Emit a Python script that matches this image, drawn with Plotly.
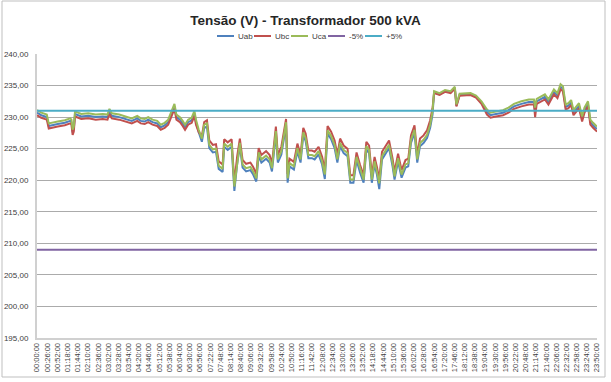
import plotly.graph_objects as go

# time of each sample, minutes after midnight
minutes = [0, 11, 25, 30, 53, 71, 85, 88, 91, 94, 97, 113, 131, 150, 168, 180, 185, 191, 210, 229,
           242, 256, 265, 275, 284, 295, 307, 316, 326, 335, 344, 351, 356, 365, 372, 378, 386, 395, 402, 406,
           413, 421, 427, 434, 440, 449, 457, 464, 474, 478, 487, 497, 504, 511, 518, 525, 534, 545, 552, 560,
           566, 573, 585, 594, 600, 610, 615, 624, 636, 640, 645, 656, 665, 673, 680, 686, 693, 702, 709, 719,
           728, 735, 742, 751, 760, 767, 774, 783, 793, 800, 808, 816, 825, 834, 841, 848, 855, 862, 868, 874,
           881, 890, 899, 908, 913, 922, 931, 941, 948, 955, 964, 971, 978, 987, 996, 1004, 1010, 1014, 1028, 1042,
           1056, 1067, 1071, 1079, 1093, 1107, 1121, 1135, 1149, 1158, 1172, 1190, 1204, 1218, 1237, 1256, 1269, 1272, 1276, 1297,
           1306, 1320, 1329, 1337, 1343, 1350, 1357, 1364, 1370, 1380, 1384, 1392, 1398, 1407, 1413, 1420, 1430]

uab = [230.7, 230.3, 230.0, 228.6, 228.9, 229.1, 229.4, 229.2, 227.6, 228.1, 230.5, 230.1, 230.2, 230.0, 230.1, 230.0, 230.9, 230.2, 230.0, 229.6,
       229.4, 229.8, 229.4, 229.3, 229.6, 229.2, 229.0, 228.4, 228.7, 229.2, 230.5, 231.7, 230.0, 229.6, 229.0, 228.4, 229.2, 229.5, 230.6, 229.2,
       227.6, 226.1, 228.3, 228.5, 225.1, 224.4, 224.5, 221.8, 221.3, 225.3, 224.8, 225.3, 218.3, 222.5, 225.4, 222.0, 221.4, 221.6, 220.9, 219.8,
       223.9, 222.8, 223.4, 222.8, 221.4, 227.3, 222.8, 224.1, 228.7, 219.6, 222.2, 221.7, 224.6, 222.8, 227.1, 226.2, 223.5, 223.5, 223.3, 224.1,
       222.5, 220.2, 227.4, 226.5, 225.1, 222.8, 225.4, 224.3, 223.8, 219.6, 219.6, 223.2, 221.2, 219.6, 224.9, 224.3, 219.6, 222.5, 220.9, 218.6,
       223.3, 224.3, 225.1, 222.2, 220.1, 223.0, 220.4, 222.0, 222.2, 225.9, 227.5, 222.8, 225.4, 225.9, 226.7, 228.3, 230.4, 233.9, 233.6, 234.1,
       233.9, 234.6, 231.8, 233.5, 233.5, 233.6, 233.2, 232.3, 230.8, 230.3, 230.5, 230.7, 231.1, 231.7, 232.1, 232.4, 232.4, 231.0, 232.5, 233.2,
       232.4, 234.0, 233.4, 234.8, 234.5, 231.6, 231.8, 232.3, 230.7, 231.6, 231.8, 229.7, 231.1, 232.1, 229.2, 228.7, 228.1]

ubc = [230.3, 229.9, 229.6, 228.2, 228.5, 228.7, 229.0, 228.8, 227.2, 227.7, 230.1, 229.7, 229.8, 229.6, 229.7, 229.6, 230.5, 229.8, 229.6, 229.2,
       229.0, 229.4, 229.0, 228.9, 229.2, 228.8, 228.6, 228.0, 228.3, 228.8, 230.1, 231.3, 229.6, 229.2, 228.6, 228.0, 228.8, 229.1, 230.2, 228.8,
       227.6, 227.0, 229.2, 229.5, 226.3, 225.6, 225.7, 223.0, 222.5, 226.5, 226.0, 226.5, 219.6, 223.7, 226.6, 223.2, 222.6, 222.8, 222.1, 221.0,
       225.1, 224.0, 224.6, 224.0, 222.6, 228.5, 224.0, 225.3, 229.7, 221.0, 223.4, 222.9, 225.8, 224.0, 228.3, 227.4, 224.7, 224.7, 224.5, 225.3,
       223.7, 221.6, 228.6, 227.7, 226.3, 224.0, 226.6, 225.5, 225.0, 220.8, 220.8, 224.4, 222.4, 220.8, 226.1, 225.5, 220.8, 223.7, 222.1, 220.2,
       224.5, 225.5, 226.3, 223.4, 221.3, 224.2, 221.6, 223.2, 223.4, 227.1, 228.7, 224.0, 226.6, 227.1, 227.9, 229.5, 231.4, 233.8, 233.5, 234.0,
       233.8, 234.5, 231.7, 233.4, 233.4, 233.5, 233.1, 232.1, 230.4, 229.9, 230.1, 230.3, 230.7, 231.3, 231.7, 232.0, 232.0, 230.0, 232.1, 232.8,
       232.0, 233.6, 233.0, 234.4, 234.1, 231.2, 231.4, 231.9, 230.3, 231.2, 231.4, 229.3, 230.7, 231.7, 228.8, 228.3, 227.7]

uca = [231.1, 230.7, 230.4, 229.0, 229.3, 229.5, 229.8, 229.6, 228.0, 228.5, 230.9, 230.5, 230.6, 230.4, 230.5, 230.4, 231.3, 230.6, 230.4, 230.0,
       229.8, 230.2, 229.8, 229.7, 230.0, 229.6, 229.4, 228.8, 229.1, 229.6, 230.9, 232.1, 230.4, 230.0, 229.4, 228.8, 229.6, 229.9, 231.0, 229.6,
       228.0, 226.6, 228.8, 229.0, 225.6, 224.9, 225.0, 222.3, 221.8, 225.8, 225.3, 225.8, 219.0, 223.0, 225.9, 222.5, 221.9, 222.1, 221.4, 220.3,
       224.4, 223.3, 223.9, 223.3, 221.9, 227.8, 223.3, 224.6, 229.2, 220.3, 222.7, 222.2, 225.1, 223.3, 227.6, 226.7, 224.0, 224.0, 223.8, 224.6,
       223.0, 220.9, 227.9, 227.0, 225.6, 223.3, 225.9, 224.8, 224.3, 220.1, 220.1, 223.7, 221.7, 220.1, 225.4, 224.8, 220.1, 223.0, 221.4, 219.5,
       223.8, 224.8, 225.6, 222.7, 220.6, 223.5, 220.9, 222.5, 222.7, 226.4, 228.0, 223.3, 225.9, 226.4, 227.2, 228.8, 230.9, 234.1, 233.8, 234.3,
       234.1, 234.8, 232.0, 233.7, 233.7, 233.8, 233.4, 232.5, 231.2, 230.7, 230.9, 231.1, 231.5, 232.1, 232.5, 232.8, 232.8, 231.5, 232.9, 233.6,
       232.8, 234.4, 233.8, 235.2, 234.9, 232.0, 232.2, 232.7, 231.1, 232.0, 232.2, 230.1, 231.5, 232.5, 229.6, 229.1, 228.5]

assert len(minutes) == len(uab) == len(ubc) == len(uca)

limit_low = 209.0   # -5%
limit_high = 231.0  # +5%

tick_minutes = list(range(0, 1431, 26))
tick_labels = ["%02d:%02d:00" % (m // 60, m % 60) for m in tick_minutes]

y_ticks = [195, 200, 205, 210, 215, 220, 225, 230, 235, 240]
y_labels = ["%d,00" % v for v in y_ticks]

series = [
    ("Uab", uab, "#4F81BD"),
    ("Ubc", ubc, "#C0504D"),
    ("Uca", uca, "#9BBB59"),
]
limit_series = [
    ("-5%", limit_low, "#8064A2"),
    ("+5%", limit_high, "#4BACC6"),
]

# layout geometry (pixels)
W, H = 611, 382
L, R, T, B = 37, 14, 54, 44
PW, PH = W - L - R, H - T - B


def px_x(px):
    return (px - L) / PW


def px_y(py):
    return (H - B - py) / PH


fig = go.Figure()
for name, vals, col in series:
    fig.add_trace(go.Scatter(x=minutes, y=vals, name=name, mode="lines",
                             line=dict(color=col, width=2)))
span = [minutes[0], minutes[-1]]
for name, lim, col in limit_series:
    fig.add_trace(go.Scatter(x=span, y=[lim] * 2, name=name, mode="lines",
                             line=dict(color=col, width=2)))

fnt = "Liberation Sans Narrow, Liberation Sans, Arial, sans-serif"

# manual compact legend (Excel style)
shapes = []
annotations = []
legend_items = [(n, c) for n, _, c in series] + [(n, c) for n, _, c in limit_series]
leg_x0, leg_step, leg_line, leg_y = 217, 37, 17, 36
for i, (name, col) in enumerate(legend_items):
    x0 = leg_x0 + i * leg_step
    shapes.append(dict(type="line", xref="paper", yref="paper",
                       x0=px_x(x0), x1=px_x(x0 + leg_line), y0=px_y(leg_y), y1=px_y(leg_y),
                       line=dict(color=col, width=2)))
    annotations.append(dict(text=name, xref="paper", yref="paper", x=px_x(x0 + leg_line + 2),
                            y=px_y(leg_y), xanchor="left", yanchor="middle", showarrow=False,
                            font=dict(size=8, color="#404040", family=fnt)))

# outer chart border
shapes.append(dict(type="rect", xref="paper", yref="paper",
                   x0=px_x(2), x1=px_x(605), y0=px_y(377), y1=px_y(1),
                   line=dict(color="#bfbfbf", width=1), fillcolor="rgba(0,0,0,0)", layer="below"))

fig.update_layout(
    width=W, height=H,
    margin=dict(l=L, r=R, t=T, b=B, autoexpand=False),
    paper_bgcolor="white", plot_bgcolor="white",
    font=dict(family=fnt, size=9, color="#404040"),
    title=dict(text="<b>Tensão (V) - Transformador 500 kVA</b>", x=0.5, xanchor="center",
               y=1 - 20 / H, yanchor="middle", font=dict(size=13.5, color="#262626", family=fnt)),
    showlegend=False,
    hovermode=False,
    xaxis=dict(range=[0, 1430], tickvals=tick_minutes, ticktext=tick_labels, tickangle=-90,
               tickfont=dict(size=7.5, color="#404040"), showgrid=False, zeroline=False,
               showline=True, linecolor="#d0d0d0", linewidth=2, ticks="", automargin=False),
    yaxis=dict(range=[195, 240], tickvals=y_ticks, ticktext=y_labels,
               tickfont=dict(size=8, color="#404040"), showgrid=True, gridcolor="#ababab",
               gridwidth=1, zeroline=False, showline=True, linecolor="#d0d0d0", linewidth=2,
               ticks="", ticklabelstandoff=5, automargin=False),
    shapes=shapes,
    annotations=annotations,
)

fig.write_html("out.html", config={"displayModeBar": False},
               post_script="document.body.style.margin='0';document.body.style.overflow='hidden';")
